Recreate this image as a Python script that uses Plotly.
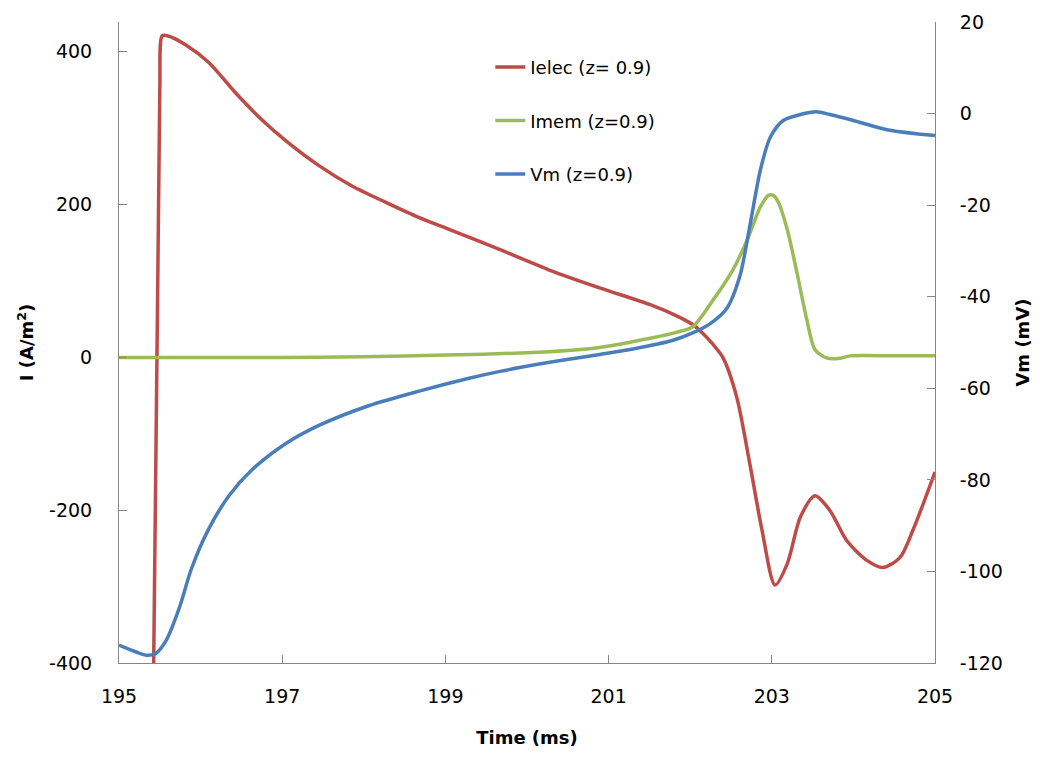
import plotly.graph_objects as go

# Time axis (ms)
t_ielec = [195.42, 195.50, 195.53, 195.59, 195.82, 196.10, 196.43, 196.75, 197.05, 197.45,
           197.86, 198.27, 198.68, 199.06, 199.67, 200.28, 200.89, 201.51, 201.84, 202.03,
           202.15, 202.28, 202.40, 202.57, 202.73, 202.88, 203.04, 203.19, 203.35, 203.53,
           203.71, 203.92, 204.17, 204.36, 204.57, 204.73, 205.0]
ielec = [-450, 350, 421, 421, 409, 386, 346, 311, 283, 251,
         224, 203, 183, 167, 141, 114, 91, 69, 54, 43,
         32, 17, 0, -52, -139, -226, -298, -270, -209, -181,
         -200, -240, -266, -275, -262, -226, -150]

t_imem = [195.0, 197.0, 198.0, 199.0, 200.0, 200.5, 200.89, 201.51, 201.84, 202.03,
          202.28, 202.52, 202.70, 202.86, 202.96, 203.02, 203.08, 203.19, 203.31, 203.43,
          203.53, 203.68, 203.84, 203.96, 204.5, 205.0]
imem = [0, 0, 1, 3, 6, 9, 13, 25, 33, 40,
        75, 114, 154, 197, 212, 212, 203, 167, 110, 49,
        10, -1, -1, 2, 2, 2]

t_vm = [195.0, 195.21, 195.34, 195.45, 195.58, 195.74, 195.89, 196.10, 196.35, 196.63,
        197.05, 197.45, 198.06, 198.68, 199.29, 199.67, 200.15, 200.49, 200.89, 201.30,
        201.79, 202.03, 202.25, 202.45, 202.61, 202.73, 202.86, 202.98, 203.14, 203.35,
        203.55, 203.71, 204.0, 204.41, 205.0]
vm = [-116.1, -117.6, -118.3, -117.9, -115.0, -107.9, -99.3, -90.7, -83.4, -77.8,
      -72.0, -68.1, -63.8, -60.6, -57.8, -56.3, -54.7, -53.7, -52.6, -51.4,
      -49.5, -47.9, -45.8, -42.5, -35.4, -24.6, -12.3, -5.2, -1.5, -0.2,
      0.4, -0.2, -1.5, -3.5, -4.8]

x_ticks = [195, 197, 199, 201, 203, 205]
y1_ticks = [-400, -200, 0, 200, 400]
y2_ticks = [-120, -100, -80, -60, -40, -20, 0, 20]

FONT = "DejaVu Sans"
AXC = "#868686"
LW = 3.5

fig = go.Figure()
fig.add_trace(go.Scatter(x=t_ielec, y=ielec, mode="lines", name="Ielec (z= 0.9)",
                         line=dict(color="#BE4B48", width=LW, shape="spline", smoothing=0.8),
                         legendgroup="a", yaxis="y"))
fig.add_trace(go.Scatter(x=t_imem, y=imem, mode="lines", name="Imem (z=0.9)",
                         line=dict(color="#9BBB59", width=LW, shape="spline", smoothing=0.8),
                         legendgroup="b", yaxis="y"))
fig.add_trace(go.Scatter(x=t_vm, y=vm, mode="lines", name="Vm (z=0.9)",
                         line=dict(color="#4A7EBB", width=LW, shape="spline", smoothing=0.8),
                         legendgroup="c", yaxis="y2"))

fig.update_layout(
    width=1042, height=749,
    margin=dict(l=111, r=115, t=14, b=94),
    plot_bgcolor="white", paper_bgcolor="white",
    font=dict(family=FONT, size=19, color="black"),
    showlegend=True,
    legend=dict(x=0.455, y=0.958, xanchor="left", yanchor="top",
                tracegroupgap=27, bgcolor="rgba(0,0,0,0)",
                font=dict(family=FONT, size=18)),
    xaxis=dict(range=[195, 205], tickvals=x_ticks, ticktext=[str(v) for v in x_ticks],
               ticks="inside", ticklen=8, automargin=False,
               tickcolor=AXC, showline=True, linecolor=AXC, linewidth=1,
               showgrid=False, zeroline=False, ticklabelstandoff=16,
               ticklabeloverflow="allow",
               title=dict(text="<b>Time (ms)</b>", font=dict(size=18), standoff=25),
               tickfont=dict(size=19)),
    yaxis=dict(range=[-400, 439], tickvals=y1_ticks, ticktext=[str(v) for v in y1_ticks],
               ticks="inside", ticklen=8, automargin=False,
               tickcolor=AXC, showline=True, linecolor=AXC, linewidth=1,
               showgrid=False, zeroline=False, ticklabelstandoff=22,
               ticklabeloverflow="allow",
               title=dict(text="<b>I (A/m<sup>2</sup>)</b>", font=dict(size=18), standoff=10),
               tickfont=dict(size=19)),
    yaxis2=dict(range=[-120, 20.02], tickvals=y2_ticks, ticktext=[str(v) for v in y2_ticks],
                ticks="inside", ticklen=8, automargin=False,
                tickcolor=AXC, showline=True, linecolor=AXC, linewidth=1,
                showgrid=False, zeroline=False, overlaying="y", side="right",
                ticklabelstandoff=20, ticklabeloverflow="allow",
                title=dict(text="<b>Vm (mV)</b>", font=dict(size=18), standoff=14),
                tickfont=dict(size=19)),
)

fig.write_html("out.html")
